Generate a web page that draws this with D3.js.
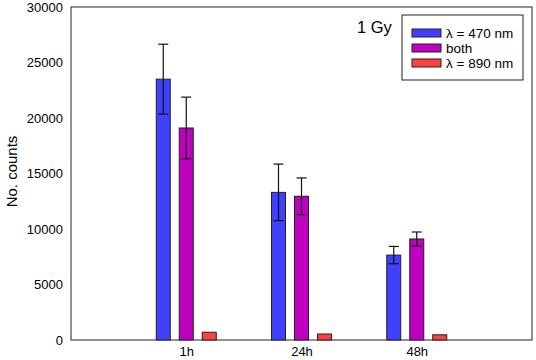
<!DOCTYPE html>
<meta charset="utf-8">
<script src="https://d3js.org/d3.v7.min.js"></script>
<style>
  body { margin: 0; background: #fff; }
  svg text { font-family: "Liberation Sans", Arial, sans-serif; fill: #000; }
</style>
<div id="chart"></div>
<script>
// data
const groups = ["1h", "24h", "48h"];
const seriesNames = ["λ = 470 nm", "both", "λ = 890 nm"];
const blue470 = [23500, 13300, 7650];
const both = [19100, 12950, 9100];
const red890 = [700, 540, 470];
const err470 = [3150, 2550, 780];
const errBoth = [2780, 1650, 630];
const err890 = [0, 0, 0];
const yTicks = [0, 5000, 10000, 15000, 20000, 25000, 30000];

const colors = ["#4040ff", "#c000c0", "#ff4040"];
const values = [blue470, both, red890];
const errors = [err470, errBoth, err890];

const W = 536, H = 360;
const margin = {top: 7, right: 4, bottom: 20, left: 71};
const width = W - margin.left - margin.right,
      height = H - margin.top - margin.bottom;

const svg = d3.select("#chart").append("svg")
    .attr("width", W).attr("height", H);
const g = svg.append("g")
    .attr("transform", `translate(${margin.left},${margin.top})`);

// groups sit at 1,2,3 on a 0..4 axis
const x = d3.scaleLinear().domain([0, 4]).range([0, width]);
const y = d3.scaleLinear().domain([0, 30000]).range([height, 0]);

const barW = 14, offset = 23;

// frame
g.append("rect")
  .attr("width", width).attr("height", height)
  .attr("fill", "none").attr("stroke", "#222").attr("stroke-width", 1);

// y axis labels
const yAxis = g.append("g")
  .call(d3.axisLeft(y).tickValues(yTicks).tickFormat(d3.format("d")).tickSize(0).tickPadding(8));
yAxis.select(".domain").remove();
yAxis.selectAll("text").style("font-size", "13px");

// x axis labels
const xAxis = g.append("g")
  .attr("transform", `translate(0,${height})`)
  .call(d3.axisBottom(x).tickValues([1, 2, 3]).tickFormat((d) => groups[d - 1]).tickSize(0).tickPadding(7));
xAxis.select(".domain").remove();
xAxis.selectAll("text").style("font-size", "13px");

// bars
values.forEach((vals, s) => {
  const cx = (i) => x(i + 1) + (s - 1) * offset;
  g.append("g").selectAll("rect")
    .data(vals)
    .join("rect")
      .attr("x", (d, i) => cx(i) - barW / 2)
      .attr("y", (d) => y(d))
      .attr("width", barW)
      .attr("height", (d) => y(0) - y(d))
      .attr("fill", colors[s])
      .attr("stroke", "#222")
      .attr("stroke-width", 1);

  // error bars
  const eb = g.append("g").attr("stroke", "#111").attr("stroke-width", 1.2);
  vals.forEach((d, i) => {
    const e = errors[s][i];
    if (!e) return;
    const c = cx(i);
    eb.append("line").attr("x1", c).attr("x2", c).attr("y1", y(d + e)).attr("y2", y(d - e));
    eb.append("line").attr("x1", c - 5).attr("x2", c + 5).attr("y1", y(d + e)).attr("y2", y(d + e));
    eb.append("line").attr("x1", c - 5).attr("x2", c + 5).attr("y1", y(d - e)).attr("y2", y(d - e));
  });
});

// y axis title
svg.append("text")
  .attr("transform", `translate(17,${margin.top + height / 2 - 2}) rotate(-90)`)
  .attr("text-anchor", "middle")
  .style("font-size", "15px")
  .text("No. counts");

// dose label
svg.append("text")
  .attr("x", 357).attr("y", 33)
  .style("font-size", "16.5px")
  .text("1 Gy");

// legend
const leg = svg.append("g").attr("transform", "translate(402,15)");
leg.append("rect").attr("width", 121).attr("height", 65)
  .attr("fill", "#fff").attr("stroke", "#222");
seriesNames.forEach((name, s) => {
  const row = leg.append("g").attr("transform", `translate(0,${14 + s * 15})`);
  row.append("rect").attr("x", 10).attr("y", 0).attr("width", 29).attr("height", 8)
    .attr("fill", colors[s]).attr("stroke", "#222");
  row.append("text").attr("x", 44).attr("y", 4).attr("dy", "0.35em")
    .style("font-size", "13.5px").text(name);
});
</script>
